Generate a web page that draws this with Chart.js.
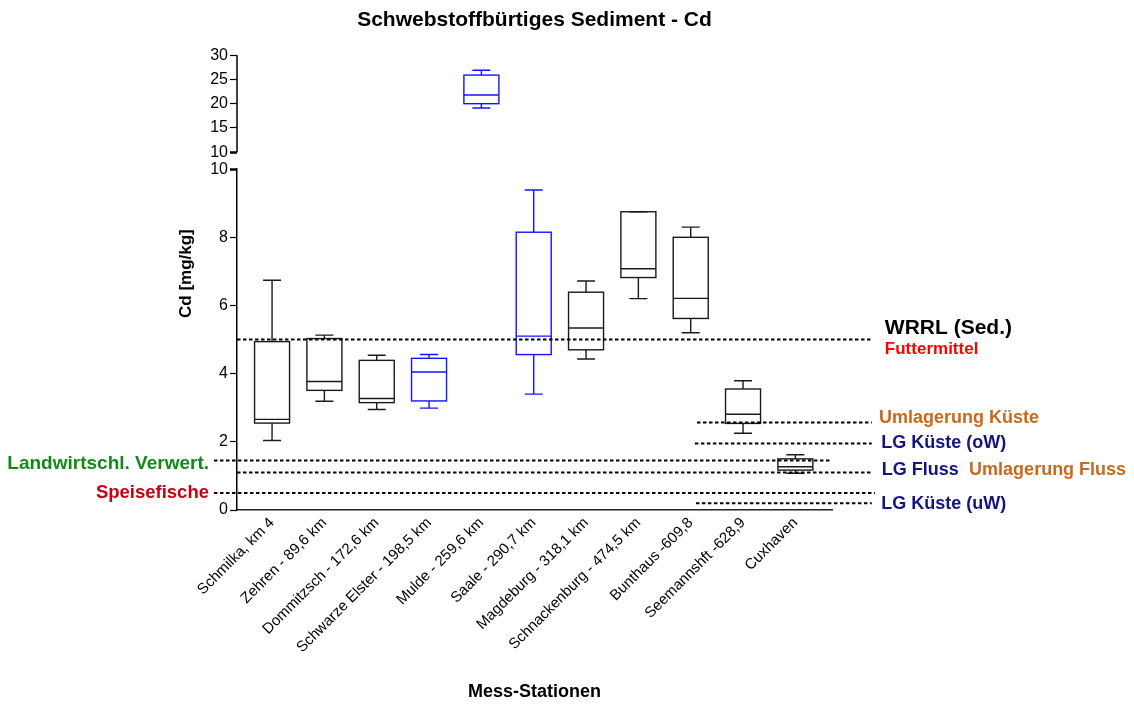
<!DOCTYPE html>
<html>
<head>
<meta charset="utf-8">
<script src="https://cdn.jsdelivr.net/npm/chart.js@4.4.1/dist/chart.umd.min.js"></script>
<style>
  body { margin: 0; background: #fff; }
  canvas { display: block; }
</style>
</head>
<body>
<canvas id="cdChart" width="1134" height="707"></canvas>
<script>
// Mess-Stationen
const stations = ['Schmilka, km 4', 'Zehren - 89,6 km', 'Dommitzsch - 172,6 km', 'Schwarze Elster - 198,5 km',
    'Mulde - 259,6 km', 'Saale - 290,7 km', 'Magdeburg - 318,1 km', 'Schnackenburg - 474,5 km',
    'Bunthaus -609,8', 'Seemannshft -628,9', 'Cuxhaven'];
// Box-Whisker Werte Cd [mg/kg]
const minVals    = [2.04, 3.19, 2.95, 2.99, 19.1, 3.40, 4.43, 6.20, 5.20, 2.25, 1.08];
const q1Vals     = [2.55, 3.51, 3.15, 3.20, 20.0, 4.56, 4.70, 6.82, 5.62, 2.54, 1.17];
const medianVals = [2.66, 3.77, 3.27, 4.05, 21.8, 5.10, 5.34, 7.08, 6.21, 2.81, 1.27];
const q3Vals     = [4.94, 5.03, 4.39, 4.45, 25.9, 8.15, 6.39, 8.75, 8.00, 3.55, 1.50];
const maxVals    = [6.74, 5.13, 4.54, 4.56, 26.9, 9.39, 6.72, 8.75, 8.30, 3.79, 1.62];
// Nebenfluesse blau
const isTributary = [false, false, false, true, true, true, false, false, false, false, false];

// Tick-Werte
const bottomTicks = [0, 2, 4, 6, 8, 10];
const topTicks = [10, 15, 20, 25, 30];

// Richtwerte (gestrichelte Linien): Wert, von/bis in Stations-Einheiten
const refNames  = ['WRRL (Sed.)', 'Landwirtschl. Verwert.', 'LG Fluss', 'Speisefische', 'Umlagerung Küste', 'LG Küste (oW)', 'LG Küste (uW)'];
const refValues = [5.0, 1.45, 1.1, 0.5, 2.57, 1.95, 0.2];
const refFrom   = [-0.67, -1.11, -0.67, -1.11, 8.12, 8.08, 8.10];
const refTo     = [11.46, 10.70, 11.46, 11.52, 11.46, 11.46, 11.46];

// Beschriftungen der Richtwerte
const labelTexts  = ['WRRL (Sed.)', 'Futtermittel', 'Umlagerung Küste', 'LG Küste (oW)', 'LG Fluss', 'Umlagerung Fluss', 'LG Küste (uW)', 'Landwirtschl. Verwert.', 'Speisefische'];
const labelX      = [11.71, 11.71, 11.60, 11.64, 11.65, 13.32, 11.64, -1.205, -1.205];
const labelY      = [5.34, 4.72, 2.70, 1.96, 1.17, 1.17, 0.18, 1.35, 0.50];
const labelColors = ['#000000', '#FF0000', '#C8691C', '#141480', '#141480', '#C8691C', '#141480', '#13891A', '#C80012'];
const labelSizes  = [21, 17, 18, 18, 18, 18, 18, 19, 18.5];

const FONT = '"Liberation Sans", Arial, sans-serif';
Chart.defaults.font.family = FONT;
Chart.defaults.color = '#000';

const boxPlotPlugin = {
    id: 'boxPlot',
    afterDraw(chart) {
        const { ctx, scales } = chart;
        const x = scales.x, y = scales.y, yTop = scales.yTop;
        ctx.save();

        // oberer Achsenabschnitt
        ctx.strokeStyle = '#000';
        ctx.lineWidth = 1.5;
        ctx.beginPath();
        ctx.moveTo(yTop.right, yTop.getPixelForValue(10));
        ctx.lineTo(yTop.right, yTop.getPixelForValue(30));
        ctx.stroke();

        // Boxen
        const halfBox = 17.5, halfCap = 9;
        stations.forEach((name, i) => {
            const s = minVals[i] > 10 ? yTop : y;
            const cx = x.getPixelForValue(i);
            const pMin = s.getPixelForValue(minVals[i]);
            const pQ1 = s.getPixelForValue(q1Vals[i]);
            const pMed = s.getPixelForValue(medianVals[i]);
            const pQ3 = s.getPixelForValue(q3Vals[i]);
            const pMax = s.getPixelForValue(maxVals[i]);
            ctx.strokeStyle = isTributary[i] ? '#1414FF' : '#1a1a1a';
            ctx.lineWidth = 1.4;
            ctx.setLineDash([]);
            ctx.strokeRect(cx - halfBox, pQ3, halfBox * 2, pQ1 - pQ3);
            ctx.beginPath();
            ctx.moveTo(cx - halfBox, pMed); ctx.lineTo(cx + halfBox, pMed);
            ctx.moveTo(cx, pQ3); ctx.lineTo(cx, pMax);
            ctx.moveTo(cx - halfCap, pMax); ctx.lineTo(cx + halfCap, pMax);
            ctx.moveTo(cx, pQ1); ctx.lineTo(cx, pMin);
            ctx.moveTo(cx - halfCap, pMin); ctx.lineTo(cx + halfCap, pMin);
            ctx.stroke();
        });

        // Richtwerte
        ctx.strokeStyle = '#000';
        ctx.lineWidth = 2;
        ctx.setLineDash([3.5, 2.5]);
        refValues.forEach((v, i) => {
            const py = y.getPixelForValue(v);
            ctx.beginPath();
            ctx.moveTo(x.getPixelForValue(refFrom[i]), py);
            ctx.lineTo(x.getPixelForValue(refTo[i]), py);
            ctx.stroke();
        });
        ctx.setLineDash([]);

        // Beschriftungen
        ctx.textBaseline = 'middle';
        labelTexts.forEach((t, i) => {
            ctx.font = 'bold ' + labelSizes[i] + 'px ' + FONT;
            ctx.fillStyle = labelColors[i];
            ctx.textAlign = labelX[i] < 0 ? 'right' : 'left';
            ctx.fillText(t, x.getPixelForValue(labelX[i]), y.getPixelForValue(labelY[i]));
        });

        // Y-Achsentitel
        ctx.save();
        ctx.translate(chart.chartArea.left - 51, (yTop.top + y.bottom) / 2 - 9);
        ctx.rotate(-Math.PI / 2);
        ctx.font = 'bold 17px ' + FONT;
        ctx.fillStyle = '#000';
        ctx.textAlign = 'center';
        ctx.fillText('Cd [mg/kg]', 0, 0);
        ctx.restore();

        ctx.restore();
    }
};

const tickWidth = (c) => (c.tick && c.tick.value === 10 ? 2.5 : 1.2);

new Chart(document.getElementById('cdChart'), {
    type: 'scatter',
    data: { datasets: [] },
    options: {
        responsive: false,
        animation: false,
        layout: { padding: { left: 197, right: 302, top: 0, bottom: 0 } },
        plugins: {
            legend: { display: false },
            tooltip: { enabled: false },
            title: {
                display: true,
                text: 'Schwebstoffbürtiges Sediment - Cd',
                fullSize: false,
                color: '#000',
                font: { size: 21, weight: 'bold' },
                padding: { top: 8, bottom: 22 }
            }
        },
        scales: {
            x: {
                type: 'linear',
                position: 'bottom',
                min: -0.67,
                max: 10.7,
                afterBuildTicks: (s) => { s.ticks = stations.map((n, i) => ({ value: i })); },
                afterFit: (s) => { s.height = 197; },
                ticks: {
                    autoSkip: false,
                    minRotation: 45,
                    maxRotation: 45,
                    padding: 4,
                    font: { size: 15 },
                    callback: (v) => stations[v]
                },
                grid: { drawOnChartArea: false, drawTicks: false },
                border: { color: '#222', width: 1.5 },
                title: {
                    display: true,
                    text: 'Mess-Stationen',
                    font: { size: 18, weight: 'bold' },
                    padding: { top: 0, bottom: 4 }
                }
            },
            yTop: {
                type: 'linear',
                position: 'left',
                stack: 'cd',
                stackWeight: 114,
                weight: 1,
                min: 6.5,
                max: 30,
                afterBuildTicks: (s) => { s.ticks = topTicks.map(v => ({ value: v })); },
                afterFit: (s) => { s.width = 40; },
                ticks: { font: { size: 16 }, padding: 2, autoSkip: false },
                grid: { drawOnChartArea: false, tickLength: 7, color: '#000', tickWidth },
                border: { display: false }
            },
            y: {
                type: 'linear',
                position: 'left',
                stack: 'cd',
                stackWeight: 341,
                weight: 0,
                min: 0,
                max: 10,
                afterBuildTicks: (s) => { s.ticks = bottomTicks.map(v => ({ value: v })); },
                afterFit: (s) => { s.width = 40; },
                ticks: { font: { size: 16 }, padding: 2, autoSkip: false },
                grid: { drawOnChartArea: false, tickLength: 7, color: '#000', tickWidth },
                border: { color: '#000', width: 1.5 }
            }
        }
    },
    plugins: [boxPlotPlugin]
});
</script>
</body>
</html>
